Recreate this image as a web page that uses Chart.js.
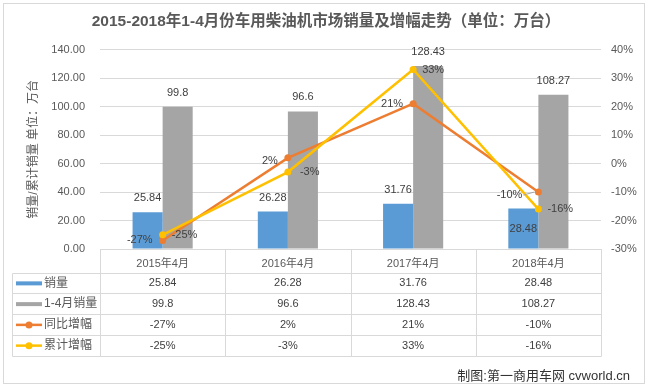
<!DOCTYPE html>
<html><head><meta charset="utf-8">
<script src="https://cdn.jsdelivr.net/npm/chart.js@4/dist/chart.umd.min.js"></script>
<style>html,body{margin:0;padding:0;background:#fff;}canvas{display:block}</style>
</head><body>
<canvas id="c" width="652" height="389"></canvas>
<script>
const categories = ['2015年4月','2016年4月','2017年4月','2018年4月'];
const seriesNames = ['销量','1-4月销量','同比增幅','累计增幅'];
const sales = [25.84, 26.28, 31.76, 28.48];
const cumSales = [99.8, 96.6, 128.43, 108.27];
const yoyGrowth = [-27, 2, 21, -10];
const cumGrowth = [-25, -3, 33, -16];
const leftTicks = [0, 20, 40, 60, 80, 100, 120, 140];
const rightTicks = [-30, -20, -10, 0, 10, 20, 30, 40];
const titleText = '2015-2018年1-4月份车用柴油机市场销量及增幅走势（单位：万台）';
const yTitleText = '销量/累计销量 单位：万台';
const creditText = '制图:第一商用车网 cvworld.cn';

const FONT = "'Liberation Sans','Noto Sans CJK SC',sans-serif";
const TXT = '#595959';
const LBL = '#404040';
const GRID = '#D9D9D9';
const COLORS = ['#5B9BD5', '#A5A5A5', '#ED7D31', '#FFC000'];

const fmtPct = v => v + '%';

const labelPlugin = {
  id: 'labels',
  afterDatasetsDraw(chart) {
    const ctx = chart.ctx;
    ctx.save();
    ctx.font = '11px ' + FONT;
    ctx.fillStyle = LBL;
    ctx.textBaseline = 'middle';
    [0, 1].forEach(di => {
      const meta = chart.getDatasetMeta(di);
      const vals = chart.data.datasets[di].data;
      meta.data.forEach((el, i) => {
        ctx.textAlign = 'center';
        let y = el.y - 14;
        if (di === 0 && i === 3) y = el.y + 21;
        ctx.fillText(String(vals[i]), el.x, y);
      });
    });
    {
      const meta = chart.getDatasetMeta(2);
      const vals = chart.data.datasets[2].data;
      meta.data.forEach((el, i) => {
        ctx.textAlign = 'right';
        const gap = i === 3 ? 16 : 10;
        const dy = (i === 1 || i === 3) ? 3 : 0;
        ctx.fillText(fmtPct(vals[i]), el.x - gap, el.y + dy);
        if (i === 3) {
          ctx.strokeStyle = '#A6A6A6';
          ctx.lineWidth = 1;
          ctx.beginPath();
          ctx.moveTo(el.x - gap + 1, el.y + 3);
          ctx.lineTo(el.x - 4, el.y);
          ctx.stroke();
        }
      });
    }
    {
      const meta = chart.getDatasetMeta(3);
      const vals = chart.data.datasets[3].data;
      meta.data.forEach((el, i) => {
        ctx.textAlign = 'left';
        const gap = i === 1 ? 12 : 9;
        ctx.fillText(fmtPct(vals[i]), el.x + gap, el.y);
      });
    }
    ctx.restore();
  }
};

const tablePlugin = {
  id: 'table',
  afterDraw(chart) {
    const ctx = chart.ctx;
    const xs = chart.scales.x;
    const area = chart.chartArea;
    const n = categories.length;
    const cw = (area.right - area.left) / n;
    const tblLeft = 12;
    const rowTop = 272.5;
    const rowH = 20.75;
    const rows = [sales, cumSales, yoyGrowth.map(fmtPct), cumGrowth.map(fmtPct)];
    ctx.save();
    ctx.strokeStyle = GRID;
    ctx.lineWidth = 1;
    ctx.strokeRect(3.5, 3.5, 641, 380);
    for (let r = 0; r <= rows.length; r++) {
      const y = Math.round(rowTop + r * rowH) + 0.5;
      ctx.beginPath();
      ctx.moveTo(tblLeft + 0.5, y);
      ctx.lineTo(area.right + 0.5, y);
      ctx.stroke();
    }
    const bottom = Math.round(rowTop + rows.length * rowH) + 0.5;
    ctx.beginPath();
    ctx.moveTo(tblLeft + 0.5, Math.round(rowTop) + 0.5);
    ctx.lineTo(tblLeft + 0.5, bottom);
    ctx.stroke();
    for (let c = 0; c <= n; c++) {
      const x = Math.round(area.left + c * cw) + 0.5;
      ctx.beginPath();
      ctx.moveTo(x, area.bottom);
      ctx.lineTo(x, bottom);
      ctx.stroke();
    }
    ctx.font = '11px ' + FONT;
    ctx.fillStyle = LBL;
    ctx.textAlign = 'center';
    ctx.textBaseline = 'middle';
    rows.forEach((row, r) => {
      const cy = rowTop + r * rowH + rowH / 2 + 0.5;
      row.forEach((v, c) => {
        ctx.fillText(String(v), xs.getPixelForTick(c), cy);
      });
    });
    rows.forEach((row, r) => {
      const cy = rowTop + r * rowH + rowH / 2 + 0.5;
      ctx.fillStyle = COLORS[r];
      ctx.strokeStyle = COLORS[r];
      if (r < 2) {
        ctx.fillRect(16, cy - 2, 26, 4);
      } else {
        ctx.lineWidth = 2.5;
        ctx.beginPath();
        ctx.moveTo(16, cy);
        ctx.lineTo(42, cy);
        ctx.stroke();
        ctx.beginPath();
        ctx.arc(29, cy, 3.5, 0, Math.PI * 2);
        ctx.fill();
      }
      ctx.fillStyle = TXT;
      ctx.textAlign = 'left';
      ctx.font = '12px ' + FONT;
      ctx.fillText(seriesNames[r], 44, cy);
    });
    ctx.font = '13px ' + FONT;
    ctx.fillStyle = '#333333';
    ctx.textAlign = 'right';
    ctx.fillText(creditText, 630, 376);
    ctx.restore();
  }
};

new Chart(document.getElementById('c'), {
  data: {
    labels: categories,
    datasets: [
      { type: 'bar', label: seriesNames[0], data: sales, backgroundColor: COLORS[0], yAxisID: 'y', order: 2,
        categoryPercentage: 0.48, barPercentage: 1 },
      { type: 'bar', label: seriesNames[1], data: cumSales, backgroundColor: COLORS[1], yAxisID: 'y', order: 3,
        categoryPercentage: 0.48, barPercentage: 1 },
      { type: 'line', label: seriesNames[2], data: yoyGrowth, borderColor: COLORS[2], backgroundColor: COLORS[2],
        borderWidth: 2.5, pointRadius: 3.5, pointBackgroundColor: COLORS[2], pointBorderWidth: 0, yAxisID: 'y2', order: 1, tension: 0 },
      { type: 'line', label: seriesNames[3], data: cumGrowth, borderColor: COLORS[3], backgroundColor: COLORS[3],
        borderWidth: 2.5, pointRadius: 3.5, pointBackgroundColor: COLORS[3], pointBorderWidth: 0, yAxisID: 'y2', order: 0, tension: 0 }
    ]
  },
  options: {
    responsive: false,
    animation: false,
    devicePixelRatio: 1,
    layout: { padding: 0 },
    plugins: {
      legend: { display: false },
      tooltip: { enabled: false },
      title: {
        display: true, text: titleText, color: TXT,
        font: { family: FONT, size: 15.5, weight: 'bold' },
        padding: { top: 12, bottom: 19 }
      }
    },
    scales: {
      x: {
        grid: { display: false, drawTicks: false },
        border: { display: true, color: GRID },
        ticks: { color: TXT, font: { family: FONT, size: 11 }, padding: 8, maxRotation: 0 },
        afterFit: s => { s.height = 140; }
      },
      y: {
        position: 'left',
        min: 0, max: 140,
        afterBuildTicks: s => { s.ticks = leftTicks.map(v => ({ value: v })); },
        grid: { color: GRID, drawTicks: false },
        border: { display: false },
        ticks: { color: TXT, font: { family: FONT, size: 11 }, padding: 15, callback: v => Number(v).toFixed(2) },
        title: { display: true, text: yTitleText, color: TXT, font: { family: FONT, size: 12 }, padding: { top: 26, bottom: 0 } },
        afterFit: s => { s.width = 100; }
      },
      y2: {
        position: 'right',
        min: -30, max: 40,
        afterBuildTicks: s => { s.ticks = rightTicks.map(v => ({ value: v })); },
        grid: { drawOnChartArea: false, drawTicks: false },
        border: { display: false },
        ticks: { color: TXT, font: { family: FONT, size: 11 }, padding: 10, callback: v => v + '%' },
        afterFit: s => { s.width = 51; }
      }
    }
  },
  plugins: [labelPlugin, tablePlugin]
});
</script>
</body></html>
